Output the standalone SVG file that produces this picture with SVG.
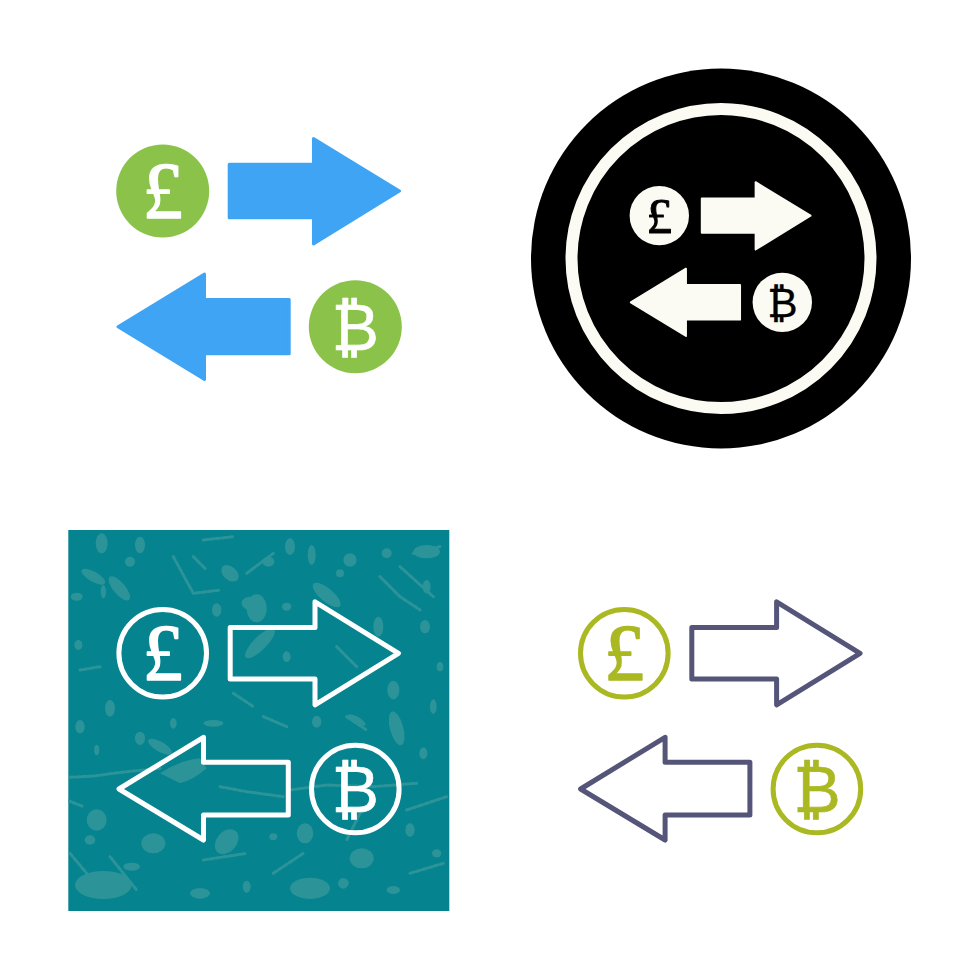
<svg xmlns="http://www.w3.org/2000/svg" width="980" height="980" viewBox="0 0 980 980">
<style>
.pound{font-family:"Liberation Serif","DejaVu Serif",serif;font-size:80px;text-anchor:middle;stroke-width:1.6;stroke-linejoin:round}
.btc{font-family:"DejaVu Sans",sans-serif;font-size:64px;text-anchor:middle;stroke-width:.6;stroke-linejoin:round}
.solid{stroke-width:3;stroke-linejoin:round}
.line{fill:none;stroke-width:5;stroke-linejoin:round;stroke-linecap:round}
.blob{fill:#2c9499}
.streak{fill:none;stroke:#2c9499;stroke-width:9;stroke-linejoin:round;stroke-linecap:round;stroke-dasharray:12 7}
</style>
<defs><clipPath id="sq"><rect x="68.3" y="530" width="381" height="381"/></clipPath></defs>
<rect width="980" height="980" fill="#fff"/>

<g id="icon-flat">
  <g id="flat-pound"><circle cx="162.7" cy="191" r="46.5" fill="#8bc34a"/><text class="pound" x="162.7" y="218" fill="#fff" stroke="#fff">£</text></g>
  <g id="flat-bitcoin"><circle cx="355.3" cy="326.7" r="46.5" fill="#8bc34a"/><text class="btc" x="355.3" y="350" fill="#fff" stroke="#fff">₿</text></g>
  <g id="flat-arrows" fill="#3fa4f4" stroke="#3fa4f4">
    <path class="solid" d="M229.2,164.2H313.5V138.5L399.5,191L313.5,244V217.8H229.2Z"/>
    <path class="solid" d="M289.2,299.5H204.5V274L118,326.7L204.5,379.5V353.8H289.2Z"/>
  </g>
</g>

<g id="icon-badge">
  <circle cx="721" cy="258.5" r="190" fill="#000"/>
  <circle cx="721" cy="258.5" r="149.5" fill="none" stroke="#fbfbf3" stroke-width="12"/>
  <g transform="translate(555.4 93.7) scale(.6386)">
    <g id="badge-pound"><circle cx="162.7" cy="191" r="46.5" fill="#fbfbf3"/><text class="pound" x="162.7" y="218" fill="#000" stroke="#000">£</text></g>
    <g id="badge-bitcoin"><circle cx="355.3" cy="326.7" r="46.5" fill="#fbfbf3"/><text class="btc" x="355.3" y="350" fill="#000" stroke="#000">₿</text></g>
    <g id="badge-arrows" fill="#fbfbf3" stroke="#fbfbf3">
      <path class="solid" d="M229.2,164.2H313.5V138.5L399.5,191L313.5,244V217.8H229.2Z"/>
      <path class="solid" d="M289.2,299.5H204.5V274L118,326.7L204.5,379.5V353.8H289.2Z"/>
    </g>
  </g>
</g>

<g id="icon-teal">
  <rect x="68.3" y="530" width="381" height="381" fill="#05838f"/>
  <g clip-path="url(#sq)"><g transform="translate(60 520) scale(.33333)">
    <g class="blob">
      <ellipse cx="125" cy="70" rx="18" ry="30"/><ellipse cx="240" cy="75" rx="15" ry="25"/><ellipse cx="210" cy="125" rx="15" ry="15"/>
      <ellipse cx="100" cy="170" rx="40" ry="15" transform="rotate(30 100 170)"/><ellipse cx="178" cy="205" rx="45" ry="18" transform="rotate(50 178 205)"/>
      <ellipse cx="50" cy="230" rx="18" ry="12"/><ellipse cx="130" cy="215" rx="8" ry="20"/><ellipse cx="590" cy="265" rx="30" ry="42"/>
      <ellipse cx="800" cy="225" rx="52" ry="20" transform="rotate(40 800 225)"/><ellipse cx="870" cy="120" rx="20" ry="20"/><ellipse cx="755" cy="105" rx="12" ry="30"/>
      <ellipse cx="510" cy="160" rx="30" ry="20" transform="rotate(40 510 160)"/><ellipse cx="625" cy="125" rx="18" ry="15"/><ellipse cx="690" cy="80" rx="15" ry="25"/>
      <ellipse cx="840" cy="160" rx="12" ry="12"/><ellipse cx="980" cy="100" rx="15" ry="15"/><ellipse cx="1100" cy="95" rx="40" ry="20"/>
      <ellipse cx="955" cy="320" rx="15" ry="30"/><ellipse cx="1095" cy="320" rx="15" ry="20"/><ellipse cx="1010" cy="625" rx="20" ry="52" transform="rotate(-15 1010 625)"/>
      <ellipse cx="890" cy="600" rx="30" ry="10" transform="rotate(30 890 600)"/><ellipse cx="600" cy="370" rx="60" ry="20" transform="rotate(-45 600 370)"/>
      <ellipse cx="55" cy="375" rx="12" ry="15"/><ellipse cx="150" cy="565" rx="15" ry="25"/><ellipse cx="240" cy="655" rx="15" ry="20"/>
      <ellipse cx="300" cy="680" rx="40" ry="15" transform="rotate(30 300 680)"/><ellipse cx="460" cy="610" rx="30" ry="10"/>
      <path d="M300,760Q360,720 420,715L440,745Q400,780 360,790Z"/><ellipse cx="110" cy="900" rx="30" ry="32"/><ellipse cx="280" cy="970" rx="36" ry="30"/>
      <ellipse cx="500" cy="965" rx="30" ry="42" transform="rotate(40 500 965)"/><ellipse cx="735" cy="940" rx="25" ry="30"/><ellipse cx="905" cy="1015" rx="36" ry="30"/>
      <ellipse cx="130" cy="1095" rx="85" ry="42"/><ellipse cx="750" cy="1105" rx="60" ry="32"/>
      <ellipse cx="570" cy="250" rx="25" ry="20"/><ellipse cx="1000" cy="510" rx="18" ry="28"/><ellipse cx="770" cy="605" rx="14" ry="18"/>
      <ellipse cx="340" cy="610" rx="10" ry="16"/><ellipse cx="680" cy="410" rx="12" ry="16"/><ellipse cx="215" cy="1040" rx="25" ry="12"/>
      <ellipse cx="470" cy="270" rx="14" ry="20"/><ellipse cx="680" cy="260" rx="14" ry="12"/><ellipse cx="1140" cy="440" rx="10" ry="14"/><ellipse cx="1100" cy="200" rx="12" ry="20"/>
      <ellipse cx="60" cy="620" rx="14" ry="20"/><ellipse cx="110" cy="690" rx="8" ry="16"/><ellipse cx="1130" cy="1000" rx="14" ry="12"/><ellipse cx="1000" cy="1110" rx="20" ry="12"/>
      <ellipse cx="420" cy="1120" rx="30" ry="16"/><ellipse cx="560" cy="1100" rx="12" ry="18"/><ellipse cx="850" cy="1090" rx="16" ry="16"/><ellipse cx="90" cy="960" rx="16" ry="14"/>
      <ellipse cx="1090" cy="700" rx="12" ry="18"/><ellipse cx="1120" cy="560" rx="10" ry="22"/><ellipse cx="1050" cy="930" rx="14" ry="20"/><ellipse cx="640" cy="950" rx="12" ry="10"/>
    </g>
    <path class="streak" d="M30,772L100,768L200,755L300,745"/>
    <path class="streak" d="M690,810L800,795L940,800L1070,790"/>
    <path class="streak" d="M480,800L560,815L670,830"/>
    <path class="streak" d="M340,110L400,220L480,210M400,110L440,150M960,170L1020,230L1080,270"/>
    <path class="streak" d="M860,590L920,630M1040,870L1160,830M430,1020L560,1000M640,1060L730,1000M1050,1060L1150,1030"/>
    <path class="streak" d="M430,60L520,50M1060,100L1140,80M30,1000L80,1060M830,380L890,440M520,520L580,560M610,590L680,620"/>
    <path class="streak" d="M20,840L70,860M150,1010L230,1110M560,160L640,100M1020,140L1120,230M120,440L60,450M900,880L860,960"/>
  </g></g>
  <g id="teal-pound" transform="translate(0 462.3)"><circle cx="162.7" cy="191" r="43.8" fill="none" stroke="#fff" stroke-width="5"/><text class="pound" x="162.7" y="218" fill="#fff" stroke="#fff">£</text></g>
  <g id="teal-bitcoin" transform="translate(0 462.3)"><circle cx="355.3" cy="326.7" r="43.8" fill="none" stroke="#fff" stroke-width="5"/><text class="btc" x="355.3" y="350" fill="#fff" stroke="#fff">₿</text></g>
  <g id="teal-arrows" transform="translate(0 462.3)" stroke="#fff">
    <path class="line" d="M230.2,165.2H315V139.5L398.5,191L315,242.5V216.8H230.2Z"/>
    <path class="line" d="M288.3,300H203.5V275L119,326.7L203.5,377.7V352.7H288.3Z"/>
  </g>
</g>

<g id="icon-outline" transform="translate(461.6 462.3)">
  <g id="outline-pound"><circle cx="162.7" cy="191" r="43.8" fill="none" stroke="#aab822" stroke-width="5"/><text class="pound" x="162.7" y="218" fill="#aab822" stroke="#aab822">£</text></g>
  <g id="outline-bitcoin"><circle cx="355.3" cy="326.7" r="43.8" fill="none" stroke="#aab822" stroke-width="5"/><text class="btc" x="355.3" y="350" fill="#aab822" stroke="#aab822">₿</text></g>
  <g id="outline-arrows" stroke="#55557a">
    <path class="line" d="M230.2,165.2H315V139.5L398.5,191L315,242.5V216.8H230.2Z"/>
    <path class="line" d="M288.3,300H203.5V275L119,326.7L203.5,377.7V352.7H288.3Z"/>
  </g>
</g>
</svg>
